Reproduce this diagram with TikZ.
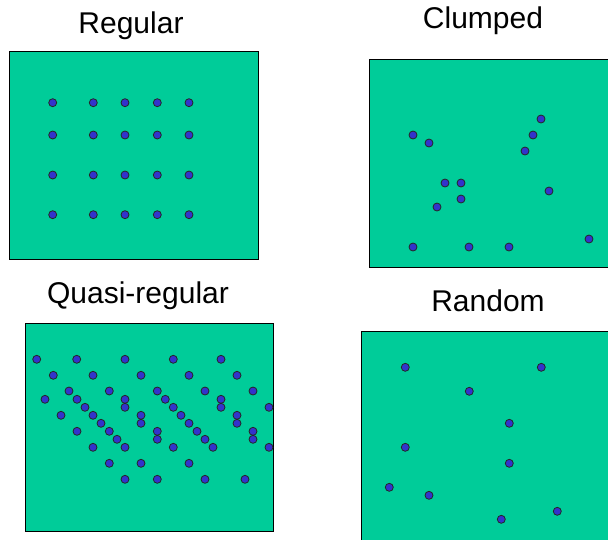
\documentclass[tikz,border=0pt]{standalone}
\usepackage{fontspec}
\setmainfont{Liberation Sans}
\usepackage{xcolor}
\usepackage{tikz}
\definecolor{field}{HTML}{00CC99}
\definecolor{plant}{HTML}{3333CC}

\begin{document}
\begin{tikzpicture}[x=1pt,y=-1pt,
          every node/.style={font=\fontsize{30}{33}\selectfont},
          panel/.style={draw=black,line width=1pt,fill=field},
          dot/.style={draw=black!85,line width=0.8pt,fill=plant},
          title/.style={anchor=base},
      ]
        \clip (0,0) rectangle (608,539);
        \useasboundingbox (0,0) rectangle (608,539);

        % titles
        \node[title] (tRegular) at (131,33) {Regular};
        \node[title] (tClumped) at (483,28) {Clumped};
        \node[title] (tQuasi) at (138,303) {Quasi-regular};
        \node[title] (tRandom) at (488,311) {Random};

        % panels
        \draw[panel] (9,51) rectangle (258,259);
        \draw[panel] (369,59) rectangle (612,267);
        \draw[panel] (25,323) rectangle (273,531);
        \draw[panel] (361,331) rectangle (612,545);

        % regular
        \foreach \x in {52.7,93.3,125,157.3,189}
          \foreach \y in {102.7,135,175,214.7}
            \draw[dot] (\x,\y) circle (4);

        % clumped
        \foreach \x/\y in {413/135,429/143,541/119,533/135,525/151,445/183,461/183,
                           461/199,437/207,549/191,413/247,469/247,509/247,589/239}
          \draw[dot] (\x,\y) circle (4);

        % quasi-regular
        \foreach \x/\y in {36.7/359.3,76.7/359.3,125/359.3,173.3/359.3,221/359.3,
                           53.3/375.3,93/375.3,141/375.3,189/375.3,237/375.3,
                           69/391,109.3/391,157.3/391,205/391,253/391,
                           45/399.3,77/399.3,125/399.3,165.3/399.3,221/399.3,
                           85/407.3,125/407.3,173.3/407.3,221/407.3,269/407.3,
                           61/415.3,93/415.3,141/415.3,181/415.3,237/415.3,
                           101/423.3,141/423.3,189/423.3,237/423.3,
                           77/431.3,109.3/431.3,157.3/431.3,197/431.3,253/431.3,
                           117/439.3,157.3/439.3,205/439.3,253/439.3,
                           93/447.3,125/447.3,173.3/447.3,213/447.3,269/447.3,
                           109.3/463.3,141/463.3,189/463.3,
                           125/479.3,157.3/479.3,205/479.3,245/479.3}
          \draw[dot] (\x,\y) circle (4);

        % random
        \foreach \x/\y in {405.3/367.3,541.3/367.3,469.3/391.3,509.3/423.3,405.3/447.3,
                           509.3/463.3,389.3/487.3,429/495.3,557.3/511.3,501.3/519.3}
          \draw[dot] (\x,\y) circle (4);
      \end{tikzpicture}
\end{document}
